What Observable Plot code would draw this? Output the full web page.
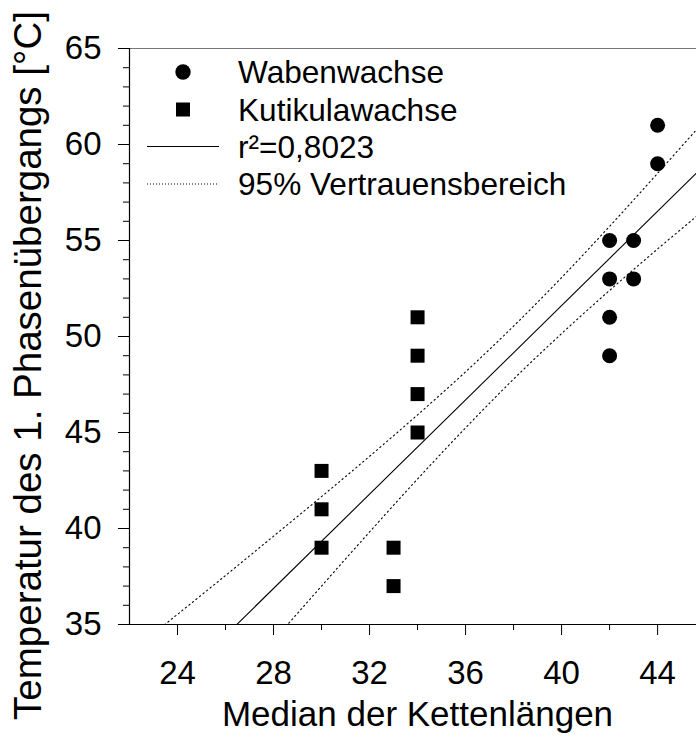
<!DOCTYPE html>
<html>
<head>
<meta charset="utf-8">
<script src="https://cdn.jsdelivr.net/npm/d3@7"></script>
<script src="https://cdn.jsdelivr.net/npm/@observablehq/plot@0.6"></script>
<style>
  html, body { margin: 0; padding: 0; background: #fff; }
  #chart svg { display: block; }
</style>
</head>
<body>
<div id="chart"></div>
<script>
// ---- data ----
const wabenX = [42, 42, 42, 42, 43, 43, 44, 44];
const wabenY = [55, 53, 51, 49, 55, 53, 61, 59];
const kutX = [30, 30, 30, 33, 33, 34, 34, 34, 34];
const kutY = [43, 41, 39, 39, 37, 51, 49, 47, 45];

// regression line
const fitX = [22, 46];
const fitY = [29.51, 58.98];

// 95% confidence band
const bandX  = [22, 23, 24, 26, 28, 30, 32, 34, 36, 38, 40, 42, 44, 46];
const upperY = [33.51, 34.52, 35.53, 37.55, 39.60, 41.66, 43.76, 45.92, 48.16, 50.54, 53.07, 55.74, 58.50, 61.31];
const lowerY = [25.51, 26.96, 28.41, 31.29, 34.16, 37.00, 39.82, 42.58, 45.24, 47.78, 50.15, 52.40, 54.56, 56.65];

// ticks
const xTicks = [24, 28, 32, 36, 40, 44];
const xMinor = [26, 30, 34, 38, 42];
const yTicks = [35, 40, 45, 50, 55, 60, 65];
const yMinor = [36, 37, 38, 39, 41, 42, 43, 44, 46, 47, 48, 49, 51, 52, 53, 54, 56, 57, 58, 59, 61, 62, 63, 64];

const xTitle = "Median der Kettenlängen";
const yTitle = "Temperatur des 1. Phasenübergangs [°C]";
const legendLabels = ["Wabenwachse", "Kutikulawachse", "r²=0,8023", "95% Vertrauensbereich"];

const FONT = "'Liberation Sans', Arial, Helvetica, sans-serif";

const chart = Plot.plot({
  width: 696,
  height: 744,
  marginLeft: 129,
  marginRight: 0,
  marginTop: 48,
  marginBottom: 120,
  style: { fontFamily: FONT, background: "white", color: "black", overflow: "visible" },
  x: { domain: [22, 45.62] },
  y: { domain: [35, 65] },
  marks: [
    Plot.ruleY([65], { stroke: "#777", strokeWidth: 1.2 }),
    Plot.ruleY([35], { stroke: "black", strokeWidth: 1.2 }),
    Plot.ruleX([22], { stroke: "black", strokeWidth: 1.2 }),
    Plot.axisY({ ticks: yTicks, tickSize: 11, tickPadding: 17, fontSize: 33, label: null, stroke: "black", fill: "black" }),
    Plot.axisY({ ticks: yMinor, tickSize: 6, label: null, stroke: "black", fill: "none" }),
    Plot.axisX({ ticks: xTicks, tickSize: 11, tickPadding: 25, fontSize: 33, label: null, stroke: "black", fill: "black" }),
    Plot.axisX({ ticks: xMinor, tickSize: 6, label: null, stroke: "black", fill: "none" }),
    Plot.line(bandX, { x: d => d, y: (d, i) => upperY[i], stroke: "black", strokeWidth: 1.1, strokeDasharray: "1.3,3.2", curve: "catmull-rom", clip: true }),
    Plot.line(bandX, { x: d => d, y: (d, i) => lowerY[i], stroke: "black", strokeWidth: 1.1, strokeDasharray: "1.3,3.2", curve: "catmull-rom", clip: true }),
    Plot.line(fitX, { x: d => d, y: (d, i) => fitY[i], stroke: "black", strokeWidth: 1.1, clip: true }),
    Plot.dot(wabenX, { x: d => d, y: (d, i) => wabenY[i], r: 7.5, fill: "black", symbol: "circle" }),
    Plot.dot(kutX, { x: d => d, y: (d, i) => kutY[i], r: 7.9, fill: "black", symbol: "square" }),
    Plot.text([xTitle], { frameAnchor: "bottom", dx: 4.5, dy: 101, fontSize: 35, fill: "black" }),
    Plot.text([yTitle], { frameAnchor: "left", textAnchor: "middle", rotate: -90, dx: -101, dy: 29, fontSize: 38.5, fill: "black" })
  ]
});

document.getElementById("chart").appendChild(chart);

// ---- legend (inside the plot, top-left) ----
const svg = d3.select(chart);
const lg = svg.append("g").attr("font-family", FONT).attr("font-size", 31.6).attr("fill", "black").attr("text-anchor", "start");
const rowY = [72, 109.5, 146.5, 184];
lg.append("circle").attr("cx", 183).attr("cy", rowY[0]).attr("r", 7.7).attr("fill", "black");
lg.append("rect").attr("x", 176).attr("y", rowY[1] - 7).attr("width", 14).attr("height", 14).attr("fill", "black");
lg.append("line").attr("x1", 147).attr("x2", 219).attr("y1", rowY[2]).attr("y2", rowY[2]).attr("stroke", "black").attr("stroke-width", 1.1);
lg.append("line").attr("x1", 147).attr("x2", 219).attr("y1", rowY[3]).attr("y2", rowY[3]).attr("stroke", "black").attr("stroke-width", 1).attr("stroke-dasharray", "1,2");
legendLabels.forEach((t, i) => {
  lg.append("text").attr("x", 238).attr("y", rowY[i]).attr("dy", "0.36em").attr("text-anchor", "start").text(t);
});
</script>
</body>
</html>
